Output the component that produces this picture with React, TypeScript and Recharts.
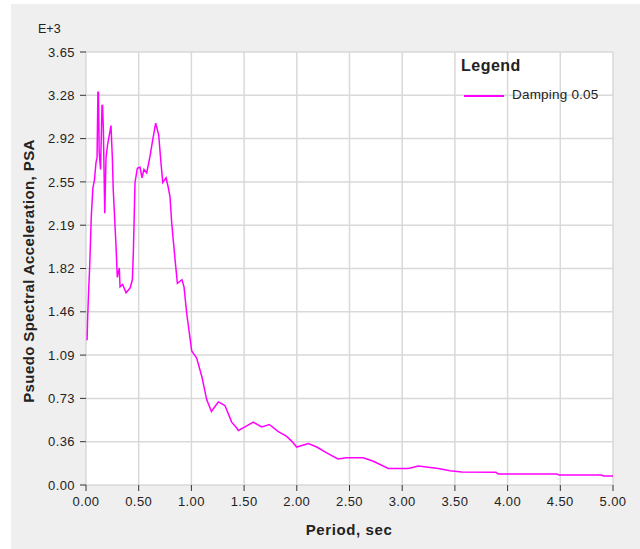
import React from 'react'
import { LineChart, Line, XAxis, YAxis, CartesianGrid } from 'recharts'

// Period (sec) and PSA (E+3)
const periods = [
  0.01, 0.015, 0.025, 0.035, 0.05, 0.065, 0.08, 0.095, 0.105, 0.113, 0.118, 0.125, 0.138, 0.152, 0.157, 0.165,
  0.178, 0.19, 0.205, 0.237, 0.25, 0.258, 0.285, 0.297, 0.316, 0.323, 0.348, 0.38, 0.418, 0.44,
  0.45, 0.465, 0.487, 0.512, 0.531, 0.55, 0.576, 0.607, 0.633, 0.661, 0.69, 0.709, 0.728, 0.76,
  0.78, 0.797, 0.813, 0.845, 0.867, 0.91, 0.93, 0.955, 1.003, 1.05, 1.1, 1.145, 1.19, 1.255, 1.318,
  1.382, 1.43, 1.445, 1.508, 1.587, 1.667, 1.739, 1.825, 1.904, 1.951, 1.999, 2.11, 2.189, 2.284,
  2.39, 2.47, 2.63, 2.726, 2.868, 3.058, 3.153, 3.248, 3.342, 3.454, 3.565, 3.89, 3.91, 4.465, 4.49,
  4.89, 4.91, 5.0,
]
const psa = [
  1.22, 1.39, 1.64, 1.84, 2.26, 2.5, 2.57, 2.72, 2.76, 3.31, 3.31, 2.81, 2.66, 3.2, 3.2, 2.99,
  2.29, 2.76, 2.87, 3.03, 2.76, 2.5, 2.01, 1.75, 1.83, 1.67, 1.69, 1.62, 1.66, 1.73,
  1.98, 2.55, 2.67, 2.68, 2.59, 2.66, 2.63, 2.77, 2.91, 3.05, 2.95, 2.74, 2.55, 2.59,
  2.51, 2.43, 2.21, 1.9, 1.7, 1.73, 1.67, 1.45, 1.13, 1.07, 0.91, 0.72, 0.62, 0.7, 0.67,
  0.53, 0.48, 0.46, 0.49, 0.53, 0.49, 0.51, 0.45, 0.41, 0.37, 0.32, 0.35, 0.32, 0.27,
  0.22, 0.23, 0.23, 0.2, 0.14, 0.14, 0.16, 0.15, 0.14, 0.12, 0.11, 0.107, 0.093, 0.093, 0.084,
  0.084, 0.076, 0.076,
]

const xTicks = [0, 0.5, 1, 1.5, 2, 2.5, 3, 3.5, 4, 4.5, 5]
const yTicks = [0, 0.365, 0.73, 1.095, 1.46, 1.825, 2.19, 2.555, 2.92, 3.285, 3.65]
const yTickLabels = ['0.00', '0.36', '0.73', '1.09', '1.46', '1.82', '2.19', '2.55', '2.92', '3.28', '3.65']

const FONT = '"Liberation Sans", Arial, sans-serif'
const TEXT = '#222'
const LINE_COLOR = '#ff00ff'

export default function App() {
  const chartData = periods.map((p, i) => ({ period: p, psa: psa[i] }))

  return (
    <div style={{ position: 'absolute', left: 0, top: 0, width: 640, height: 549, background: '#fff', fontFamily: FONT }}>
      <div style={{ position: 'absolute', left: 11, top: 4, width: 629, height: 545, background: '#efefef' }}>
        <LineChart
          width={629}
          height={545}
          data={chartData}
          margin={{ top: 48, right: 27, bottom: 34, left: 0 }}
        >
          <CartesianGrid stroke="#d9d9d9" strokeWidth={1.5} fill="#fff" horizontal vertical />
          <XAxis
            dataKey="period"
            type="number"
            domain={[0, 5]}
            ticks={xTicks}
            tickFormatter={(v: number) => v.toFixed(2)}
            height={30}
            axisLine={false}
            tickLine={{ stroke: '#333' }}
            tickSize={6}
            tickMargin={6}
            tick={{ fill: TEXT, fontSize: 13, fontFamily: FONT, letterSpacing: 0.4 }}
            interval={0}
          />
          <YAxis
            type="number"
            domain={[0, 3.65]}
            ticks={yTicks}
            tickFormatter={(v: number) => yTickLabels[yTicks.indexOf(v)] ?? ''}
            width={75}
            axisLine={false}
            tickLine={{ stroke: '#333' }}
            tickSize={6}
            tickMargin={5}
            tick={{ fill: TEXT, fontSize: 13, fontFamily: FONT, letterSpacing: 0.4 }}
            interval={0}
          />
          <Line
            type="linear"
            dataKey="psa"
            stroke={LINE_COLOR}
            strokeWidth={1.5}
            dot={false}
            isAnimationActive={false}
          />
        </LineChart>
      </div>

      {/* exponent label */}
      <div style={{ position: 'absolute', left: 38, top: 22, fontSize: 12.5, color: TEXT }}>E+3</div>

      {/* axis titles */}
      <div
        style={{
          position: 'absolute',
          left: 28,
          top: 271,
          transform: 'translate(-50%, -50%) rotate(-90deg)',
          whiteSpace: 'nowrap',
          fontSize: 15,
          letterSpacing: 0.4,
          fontWeight: 'bold',
          color: TEXT,
        }}
      >
        Psuedo Spectral Acceleration, PSA
      </div>
      <div
        style={{
          position: 'absolute',
          left: 349,
          top: 529,
          transform: 'translate(-50%, -50%)',
          whiteSpace: 'nowrap',
          fontSize: 15,
          letterSpacing: 0.6,
          fontWeight: 'bold',
          color: TEXT,
        }}
      >
        Period, sec
      </div>

      {/* legend */}
      <div style={{ position: 'absolute', left: 461, top: 57, fontSize: 16, letterSpacing: 0.5, fontWeight: 'bold', color: TEXT }}>Legend</div>
      <div style={{ position: 'absolute', left: 464, top: 95, width: 40, height: 1.5, background: LINE_COLOR }} />
      <div style={{ position: 'absolute', left: 512, top: 87, fontSize: 13.5, letterSpacing: 0.2, color: TEXT }}>Damping 0.05</div>
    </div>
  )
}
